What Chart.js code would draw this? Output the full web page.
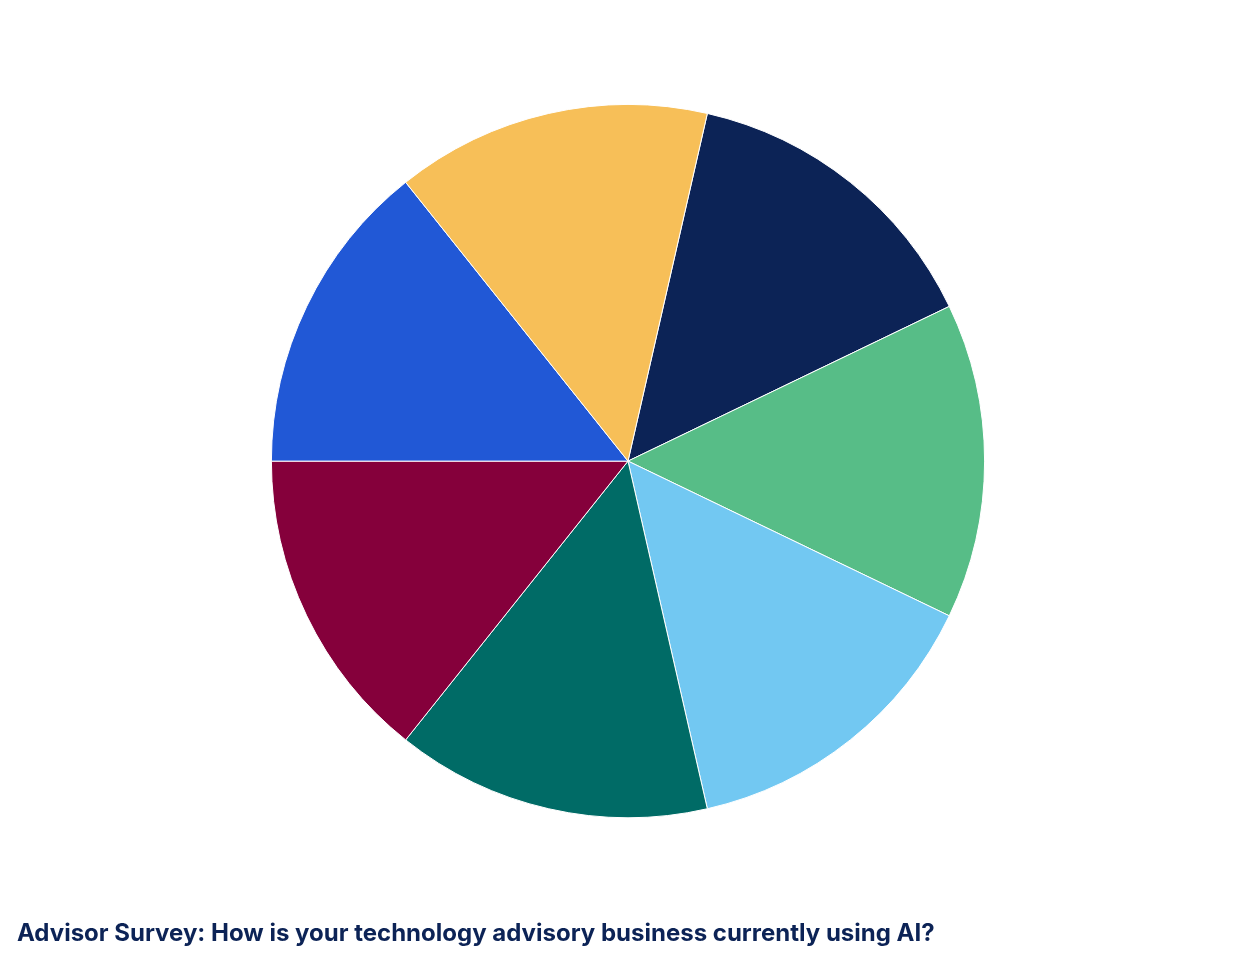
<!DOCTYPE html>
<html>
<head>
<meta charset="utf-8">
<title>Advisor Survey</title>
<script src="https://cdn.jsdelivr.net/npm/chart.js@4"></script>
<style>
  html, body { margin: 0; padding: 0; background: #ffffff; }
  #wrap { width: 1256px; height: 964px; position: relative; }
</style>
</head>
<body>
<div id="wrap"><canvas id="myChart"></canvas></div>
<script>
(() => {
  'use strict'

  // Survey answers (legend is not shown in the picture)
  const labels = [
    'Option 1', 'Option 2', 'Option 3', 'Option 4',
    'Option 5', 'Option 6', 'Option 7'
  ];
  const shares = [1, 1, 1, 1, 1, 1, 1];
  const colors = ['#0c2356', '#57bd87', '#72c8f2', '#006b66', '#85003b', '#2158d6', '#f7bf58'];

  const ctx = document.getElementById('myChart');
  new Chart(ctx, {
      type: 'pie',
      data: {
          labels: labels,
          datasets: [{
              data: shares,
              backgroundColor: colors,
              borderColor: '#ffffff',
              borderWidth: 1
          }]
      },
      options: {
          responsive: true,
          maintainAspectRatio: false,
          animation: false,
          rotation: 90 / 7,
          layout: {
              padding: { top: 104, left: 17, right: 17 }
          },
          plugins: {
              legend: { display: false },
              tooltip: { enabled: false },
              title: {
                  display: true,
                  position: 'bottom',
                  align: 'start',
                  text: 'Advisor Survey: How is your technology advisory business currently using AI?',
                  color: '#0c2356',
                  font: { family: 'Inter', size: 24, weight: '700' },
                  padding: { top: 101, bottom: 16 }
              }
          }
      }
  });
})();
</script>
</body>
</html>
